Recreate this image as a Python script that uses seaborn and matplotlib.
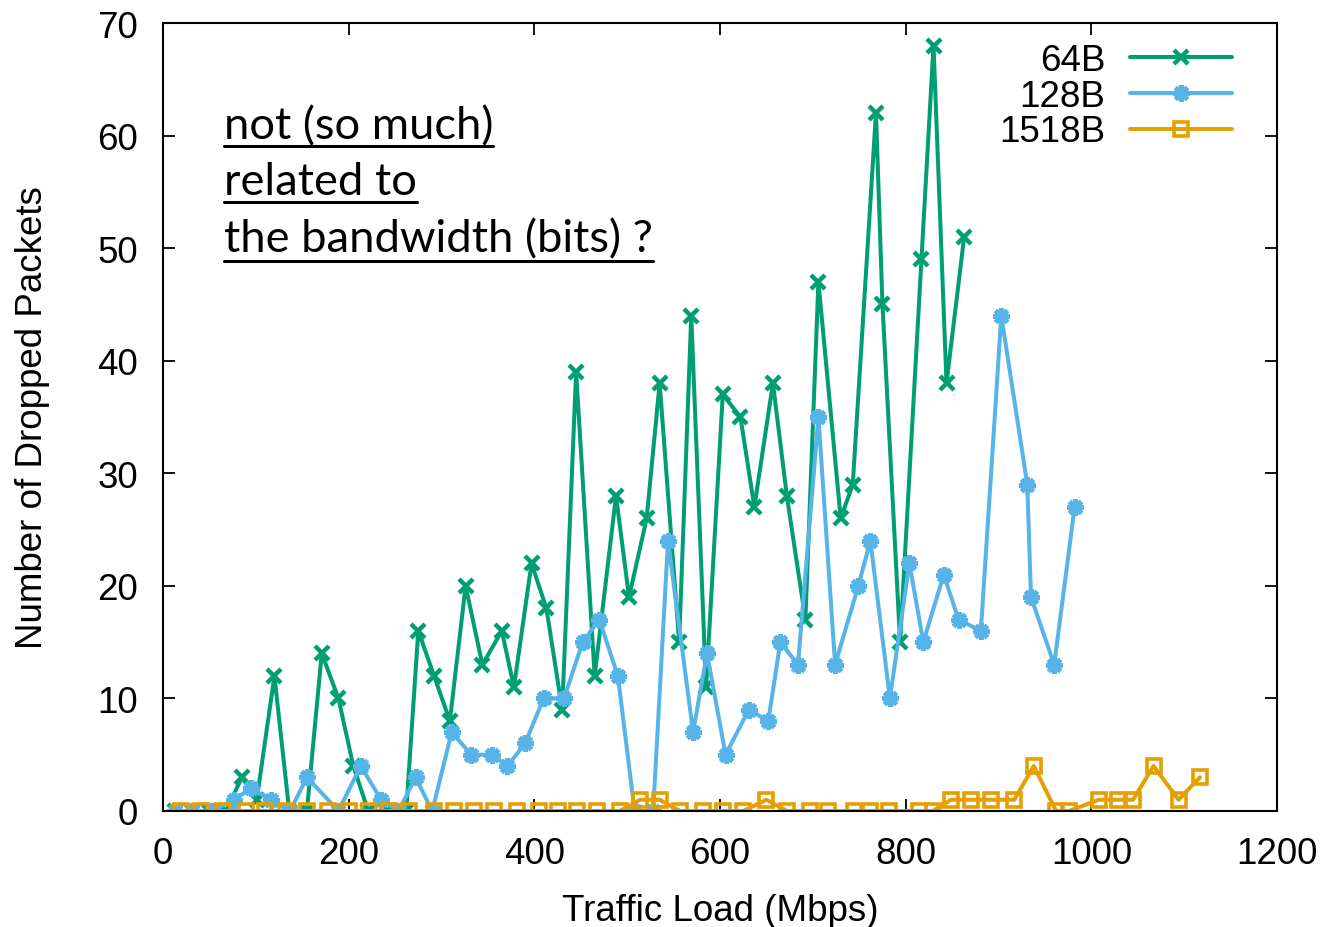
import matplotlib
matplotlib.use("Agg")
import matplotlib.pyplot as plt
import seaborn as sns
import pandas as pd
from matplotlib.lines import Line2D

# ---------------- data ----------------
load_64 = [13, 31, 50, 68, 85, 101, 120, 136, 155, 171, 189, 205, 221, 241, 262,
           275, 292, 309, 326, 344, 365, 378, 397, 413, 430, 445, 465, 488, 502,
           521, 535, 556, 569, 585, 603, 622, 637, 657, 672, 692, 706, 730, 743,
           768, 775, 794, 817, 830, 844, 863]
drop_64 = [0, 0, 0, 0, 3, 1, 12, 0, 0, 14, 10, 4, 0, 0, 0,
           16, 12, 8, 20, 13, 16, 11, 22, 18, 9, 39, 12, 28, 19,
           26, 38, 15, 44, 11, 37, 35, 27, 38, 28, 17, 47, 26, 29,
           62, 45, 15, 49, 68, 38, 51]

load_128 = [13, 31, 53, 76, 95, 116, 137, 155, 189, 213, 235, 254, 272, 290,
            311, 332, 354, 371, 390, 410, 432, 452, 470, 490, 508, 528, 544,
            571, 586, 606, 631, 652, 665, 684, 706, 724, 749, 762, 783, 804,
            819, 841, 857, 881, 903, 931, 935, 960, 982]
drop_128 = [0, 0, 0, 1, 2, 1, 0, 3, 0, 4, 1, 0, 3, 0,
            7, 5, 5, 4, 6, 10, 10, 15, 17, 12, 0, 0, 24,
            7, 14, 5, 9, 8, 15, 13, 35, 13, 20, 24, 10, 22,
            15, 21, 17, 16, 44, 29, 19, 13, 27]

load_1518 = [19, 41, 65, 89, 110, 132, 155, 178, 200, 222, 243, 265, 292, 314,
             335, 357, 381, 405, 425, 446, 468, 492, 514, 535, 557, 582, 603,
             625, 650, 672, 697, 716, 744, 762, 782, 814, 829, 849, 870, 892,
             917, 938, 962, 976, 1008, 1029, 1045, 1067, 1094, 1117]
drop_1518 = [0, 0, 0, 0, 0, 0, 0, 0, 0, 0, 0, 0, 0, 0,
             0, 0, 0, 0, 0, 0, 0, 0, 1, 1, 0, 0, 0,
             0, 1, 0, 0, 0, 0, 0, 0, 0, 0, 1, 1, 1,
             1, 4, 0, 0, 1, 1, 1, 4, 1, 3]

series_names = ["64B", "128B", "1518B"]
x_ticks = [0, 200, 400, 600, 800, 1000, 1200]
y_ticks = [0, 10, 20, 30, 40, 50, 60, 70]
x_label = "Traffic Load (Mbps)"
y_label = "Number of Dropped Packets"
note_lines = ["not (so much)", "related to", "the bandwidth (bits) ?"]

# ---------------- style ----------------
sns.set_style("ticks")
plt.rcParams['font.family'] = ['Liberation Sans', 'DejaVu Sans']
plt.rcParams['text.color'] = 'black'
plt.rcParams['axes.labelcolor'] = 'black'

W, H = 1331, 928
fig = plt.figure(figsize=(W / 100, H / 100), dpi=100)
ax = fig.add_axes([163 / W, 1 - 812 / H, (1277 - 163) / W, (812 - 24) / H])

colors = ["#009E73", "#56B4E9", "#E69F00"]
styles = [
    dict(marker="x", markersize=10, markeredgewidth=3.2,
         markeredgecolor=colors[0]),
    dict(marker=(8, 2, 0), markersize=12, markeredgewidth=3.6,
         markeredgecolor=colors[1]),
    dict(marker="s", markersize=10.5, markeredgewidth=2.6,
         markeredgecolor=colors[2], markerfacecolor="none"),
]
data = [(load_64, drop_64), (load_128, drop_128), (load_1518, drop_1518)]

for name, (xs, ys), col, st in zip(series_names, data, colors, styles):
    df = pd.DataFrame({"load": xs, "drops": ys})
    sns.lineplot(data=df, x="load", y="drops", ax=ax, color=col,
                 linewidth=2.9, label=name, estimator=None, sort=False,
                 errorbar=None, **st)

ax.set_xlim(0, 1200)
ax.set_ylim(0, 70)
ax.set_xticks(x_ticks)
ax.set_yticks(y_ticks)
ax.tick_params(direction="in", length=8.6, width=1.3, top=True, right=True,
               labelsize=26.5, pad=18, colors="black")
for sp in ax.spines.values():
    sp.set_visible(True)
    sp.set_linewidth(1.5)
    sp.set_color("black")

ax.set_xlabel(x_label, fontsize=26.5, labelpad=16, color="black")
ax.set_ylabel(y_label, fontsize=26.5, labelpad=34, color="black")

leg = ax.legend(loc="upper right", markerfirst=False, frameon=False,
                fontsize=26.5, handlelength=2.76, handletextpad=0.68,
                labelspacing=0.02, borderaxespad=0.0, borderpad=0.0,
                bbox_to_anchor=(1 - 45 / (1277 - 163), 1 - 20 / (812 - 24)))
for t in leg.get_texts():
    t.set_color("black")

# annotation (underlined text)
baselines = [139, 195, 252]
underlines = [147, 203, 262]
texts = []
for line, b in zip(note_lines, baselines):
    t = fig.text(224 / W, 1 - b / H, line, family=["Lato", "DejaVu Sans"],
                 fontsize=32.6, va="baseline", ha="left", color="black")
    texts.append(t)
fig.canvas.draw()
r = fig.canvas.get_renderer()
for t, u in zip(texts, underlines):
    bb = t.get_window_extent(r)
    fig.add_artist(Line2D([bb.x0 / W, bb.x1 / W], [1 - u / H, 1 - u / H],
                          transform=fig.transFigure, color="black", lw=2.2))

fig.savefig("out.png", dpi=100)
